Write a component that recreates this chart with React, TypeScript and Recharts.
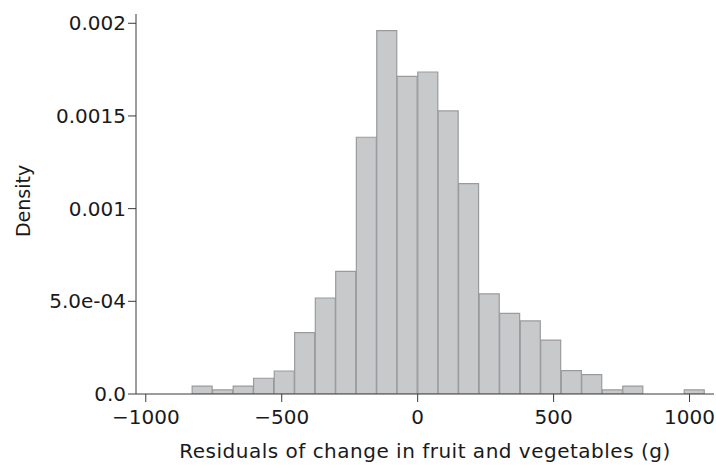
import React from 'react';
import { BarChart, Bar, XAxis, YAxis, Label } from 'recharts';

// Histogram bins: centre of each bin (g) and its density
const binCenters = [
  -792, -717, -641, -566, -490, -415, -339, -264, -188, -113, -38,
  38, 113, 188, 264, 339, 415, 490, 566, 641, 717, 792, 867, 943, 1018,
];
const densities = [
  0.000043, 0.000022, 0.000043, 0.000085, 0.000124, 0.000331, 0.000518,
  0.000662, 0.001385, 0.00196, 0.001714, 0.001737, 0.001527, 0.001135,
  0.00054, 0.000435, 0.000394, 0.000291, 0.000126, 0.000104, 0.000022,
  0.000043, 0, 0, 0.000022,
];

const xTicks = [-1000, -500, 0, 500, 1000];
const xTickLabels = ['\u22121000', '\u2212500', '0', '500', '1000'];
const yTicks = [0, 0.0005, 0.001, 0.0015, 0.002];
const yTickLabels = ['0.0', '5.0e-04', '0.001', '0.0015', '0.002'];

const data = binCenters.map((x, i) => ({ x, density: densities[i] }));

const FONT = '"DejaVu Sans", sans-serif';
const AXIS = '#3a3a3a';
const TEXT = '#1a1a1a';
const tickStyle = { fill: TEXT, fontSize: 20, fontFamily: FONT };

const App: React.FC = () => {
  return (
    <div style={{ position: 'absolute', left: 0, top: 0, background: '#fff' }}>
      <BarChart
        width={716}
        height={466}
        data={data}
        margin={{ top: 14, right: 2, left: 0, bottom: 0 }}
        barCategoryGap={0}
        barGap={0}
      >
        <XAxis
          dataKey="x"
          type="number"
          domain={[-1036, 1090]}
          ticks={xTicks}
          tickFormatter={(v: number) => xTickLabels[xTicks.indexOf(v)] ?? String(v)}
          height={72}
          stroke={AXIS}
          tickSize={8}
          tickMargin={8}
          tick={tickStyle}
          interval={0}
          allowDataOverflow
        >
          <Label
            value="Residuals of change in fruit and vegetables (g)"
            position="insideBottom"
            offset={8}
            style={{ fill: TEXT, fontSize: 20, fontFamily: FONT, letterSpacing: 0.5 }}
          />
        </XAxis>
        <YAxis
          type="number"
          domain={[0, 0.00205]}
          ticks={yTicks}
          tickFormatter={(v: number) => yTickLabels[yTicks.indexOf(v)] ?? String(v)}
          width={136}
          stroke={AXIS}
          tickSize={8}
          tick={tickStyle}
          interval={0}
          allowDataOverflow
        >
          <Label
            content={({ viewBox }: any) => {
              const cx = viewBox.x + 23;
              const cy = viewBox.y + 187;
              return (
                <text
                  x={cx}
                  y={cy}
                  transform={`rotate(-90 ${cx} ${cy})`}
                  textAnchor="middle"
                  dominantBaseline="central"
                  fill={TEXT}
                  fontSize={19}
                  fontFamily={FONT}
                >
                  Density
                </text>
              );
            }}
          />
        </YAxis>
        <Bar
          dataKey="density"
          fill="#c8c9cb"
          stroke="#9a9b9d"
          strokeWidth={1.2}
          isAnimationActive={false}
        />
      </BarChart>
    </div>
  );
};

export default App;
